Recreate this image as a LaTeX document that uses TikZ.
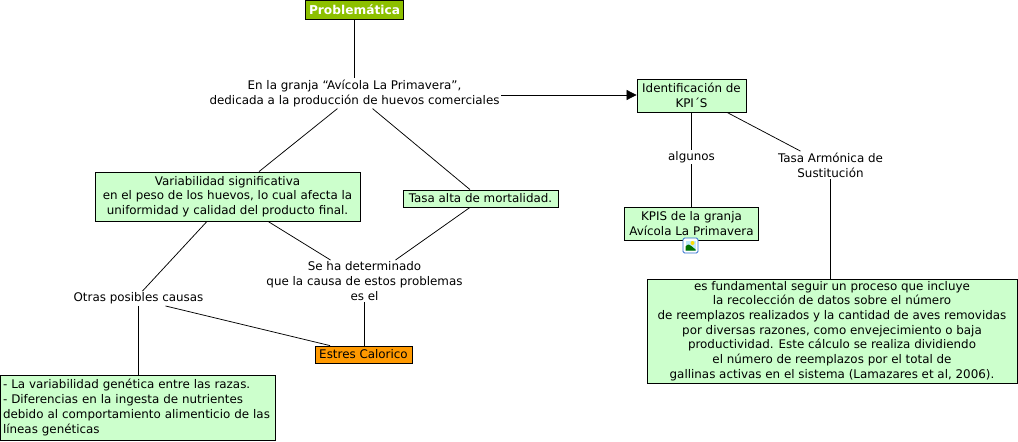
\documentclass[tikz,border=0pt]{standalone}
\usepackage{fontspec}
\setmainfont{DejaVu Sans}
\usetikzlibrary{arrows.meta,calc}
\definecolor{boxgreen}{HTML}{CCFFCC}
\definecolor{probgreen}{HTML}{8DC000}
\definecolor{estorange}{HTML}{FF9900}
\definecolor{iconblue}{HTML}{2F6FD0}
\begin{document}
\begin{tikzpicture}[x=1pt,y=-1pt,
  every node/.style={font=\fontsize{11.9}{14.7}\selectfont},
  gbox/.style={draw=black,fill=boxgreen,inner sep=0pt,align=center,line width=0.8pt},
  plain/.style={inner sep=1.5pt,align=center},
  conn/.style={draw=black,line width=0.75pt}]
\useasboundingbox (0,0) rectangle (1018,442);
\fill[white] (0,0) rectangle (1018,442);

\node[draw=black,fill=probgreen,inner sep=0pt,minimum width=98pt,minimum height=19pt,text=white,font=\fontsize{12.2}{14.7}\selectfont\bfseries,line width=0.8pt] (prob) at (354.5,9.5) {Problemática};
\node[plain] (en) at (354.5,93.5) {En la granja “Avícola La Primavera”,\\dedicada a la producción de huevos comerciales};
\node[gbox,minimum width=109pt,minimum height=33pt] (ident) at (691.5,95.5) {Identificación de\\KPI´S};
\node[plain] (alg) at (691.5,157) {algunos};
\node[gbox,minimum width=134pt,minimum height=33pt] (kpis) at (691.5,223.5) {KPIS de la granja\\Avícola La Primavera};
\node[plain] (tasaarm) at (830.5,165) {Tasa Armónica de\\Sustitución};
\node[gbox,minimum width=370pt,minimum height=104pt] (big) at (832,331) {es fundamental seguir un proceso que incluye\\la recolección de datos sobre el número\\de reemplazos realizados y la cantidad de aves removidas\\por diversas razones, como envejecimiento o baja\\productividad. Este cálculo se realiza dividiendo\\el número de reemplazos por el total de\\gallinas activas en el sistema (Lamazares et al, 2006).};
\node[gbox,minimum width=265pt,minimum height=49pt] (var) at (227.5,196.5) {Variabilidad significativa\\ en el peso de los huevos, lo cual afecta la\\uniformidad y calidad del producto final.};
\node[gbox,minimum width=155pt,minimum height=17pt] (talta) at (480.5,198.5) {Tasa alta de mortalidad.};
\node[plain] (seha) at (364.5,281) {Se ha determinado\\que la causa de estos problemas\\es el};
\node[draw=black,fill=estorange,inner sep=0pt,minimum width=97pt,minimum height=17pt,line width=0.8pt] (est) at (363.5,354.5) {Estres Calorico};
\node[plain] (otras) at (138.5,298.5) {Otras posibles causas};
\node[gbox,minimum width=275pt,minimum height=65pt,text width=269pt,align=left] (bot) at (137.5,407.5) {- La variabilidad genética entre las razas.\\- Diferencias en la ingesta de nutrientes\\debido al comportamiento alimenticio de las\\líneas genéticas};

% image icon
\node[draw=iconblue,fill=white,rounded corners=1.5pt,minimum width=15pt,minimum height=15pt,inner sep=0pt,line width=0.9pt] (icon) at (690.5,245.5) {};
\fill[cyan!25] ($(icon.center)+(-5,-5)$) rectangle ($(icon.center)+(5,5)$);
\fill[yellow!80!orange] ($(icon.center)+(2,-2.5)$) circle (2);
\fill[green!45!black] ($(icon.center)+(-5,5)$) -- ($(icon.center)+(-5,1)$) .. controls ($(icon.center)+(-2,-2)$) .. ($(icon.center)+(5,4)$) -- ($(icon.center)+(5,5)$) -- cycle;

% connectors
\draw[conn] (prob.south) -- (en.north);
\draw[conn,-{Triangle[length=10pt,width=10pt]}] ([yshift=-1.5pt]en.east) -- ([yshift=-1.5pt]en.east -| ident.west);
\draw[conn] (ident.south) -- (alg.north);
\draw[conn] (alg.south) -- (kpis.north);
\draw[conn] ([xshift=35.5pt]ident.south) -- ([xshift=-30pt]tasaarm.north);
\draw[conn] (tasaarm.south) -- (tasaarm.south |- big.north);
\draw[conn] ([xshift=-17pt]en.south) -- ([xshift=31.5pt]var.north);
\draw[conn] ([xshift=18pt]en.south) -- ([xshift=-10.5pt]talta.north);
\draw[conn] ([xshift=-20.5pt]var.south) -- ([xshift=4pt]otras.north);
\draw[conn] ([xshift=40.5pt]var.south) -- ([xshift=-34pt]seha.north);
\draw[conn] ([xshift=-10.5pt]talta.south) -- ([xshift=31pt]seha.north);
\draw[conn] (seha.south) -- (seha.south |- est.north);
\draw[conn] ([xshift=27pt]otras.south) -- ([xshift=-33.5pt]est.north);
\draw[conn] (otras.south) -- (otras.south |- bot.north);
\end{tikzpicture}
\end{document}
